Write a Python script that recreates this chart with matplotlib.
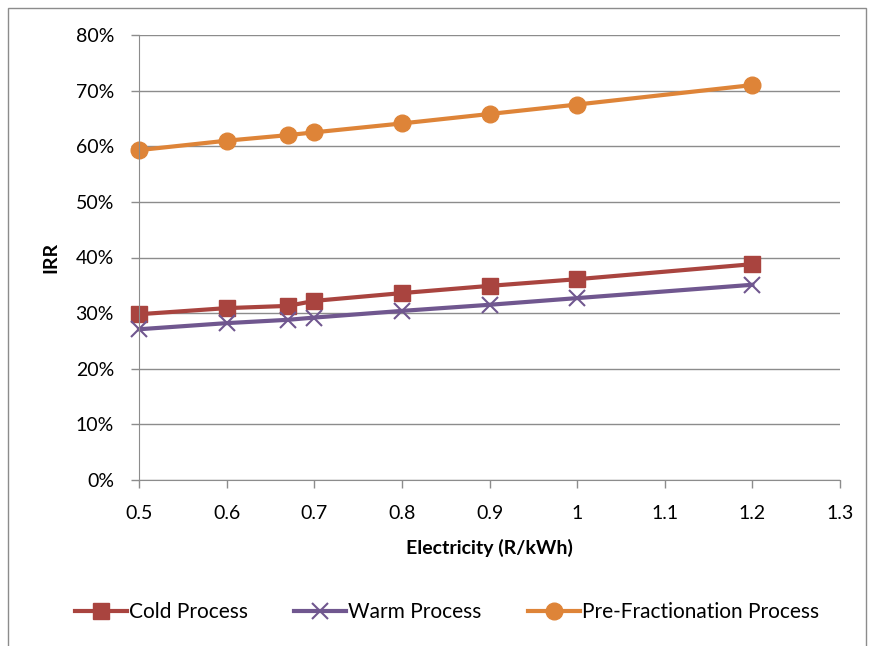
import matplotlib

matplotlib.use("Agg")
import matplotlib.pyplot as plt
from matplotlib.patches import Rectangle
from matplotlib.ticker import FuncFormatter

electricity = [0.5, 0.6, 0.67, 0.7, 0.8, 0.9, 1.0, 1.2]
cold = [29.8, 30.9, 31.3, 32.2, 33.6, 34.9, 36.1, 38.8]
warm = [27.1, 28.2, 28.8, 29.2, 30.4, 31.5, 32.7, 35.1]
prefrac = [59.3, 61.0, 62.0, 62.5, 64.1, 65.8, 67.5, 71.0]

x_ticks = [0.5, 0.6, 0.7, 0.8, 0.9, 1.0, 1.1, 1.2, 1.3]
x_tick_labels = ["0.5", "0.6", "0.7", "0.8", "0.9", "1", "1.1", "1.2", "1.3"]

plt.rcParams["font.family"] = ["Lato", "DejaVu Sans"]

fig = plt.figure(figsize=(8.72, 6.46), dpi=100)
ax = fig.add_axes([139 / 872, 1 - 480 / 646, (840 - 139) / 872, (480 - 35) / 646])

fig.patches.append(Rectangle((8 / 872, -0.02), (866 - 8) / 872, 1.02 - 8 / 646,
                             transform=fig.transFigure, fill=False,
                             edgecolor="#8c8c8c", lw=1.0))

ax.plot(electricity, cold, "-s", color="#A9443F", lw=3, ms=11, clip_on=False,
        label="Cold Process")
ax.plot(electricity, warm, "-x", color="#70578F", lw=3, ms=11, mew=1.5, clip_on=False,
        label="Warm Process")
ax.plot(electricity, prefrac, "-o", color="#DE8438", lw=3, ms=12, clip_on=False,
        label="Pre-Fractionation Process")

ax.set_xlim(0.5, 1.3)
ax.set_ylim(0, 80)
ax.set_xticks(x_ticks)
ax.set_xticklabels(x_tick_labels)
ax.set_yticks(range(0, 81, 10))
ax.yaxis.set_major_formatter(FuncFormatter(lambda v, _: f"{v:.0f}%"))
ax.grid(axis="y", color="#8c8c8c", lw=1)
ax.set_axisbelow(True)
for s in ("top", "right"):
    ax.spines[s].set_visible(False)
for s in ("left", "bottom"):
    ax.spines[s].set_color("#8c8c8c")
ax.tick_params(colors="#8c8c8c", labelcolor="black", labelsize=14, length=6, width=1)
ax.tick_params(axis="y", pad=12)
ax.tick_params(axis="x", pad=12)

ax.set_xlabel("Electricity (R/kWh)", fontsize=14, fontweight="bold", labelpad=12)
ax.set_ylabel("IRR", fontsize=14, fontweight="bold", labelpad=12)

fig.legend(loc="center", bbox_to_anchor=(447 / 872, 1 - 612 / 646), ncol=3, frameon=False,
           fontsize=15, handlelength=2.5, columnspacing=2.2, handletextpad=0.1)

fig.savefig("out.png", dpi=100)
